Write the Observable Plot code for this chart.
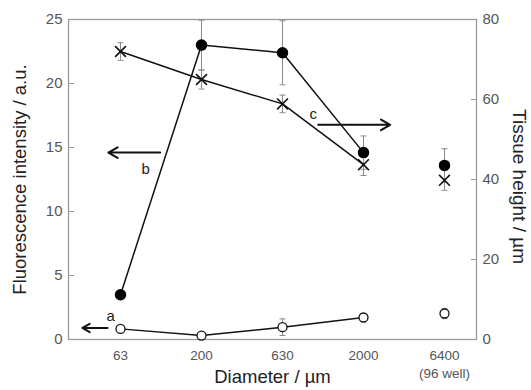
<!DOCTYPE html>
<html><head><meta charset="utf-8">
<script src="https://cdn.jsdelivr.net/npm/d3@7"></script>
<script src="https://cdn.jsdelivr.net/npm/@observablehq/plot@0.6"></script>
<style>body{margin:0;background:#fff;} svg{display:block;}</style>
</head><body><div id="chart"></div>
<script>
// Categories (x positions are category indices)
const diameters = ["63", "200", "630", "2000", "6400\n(96 well)"];
// a: open circles, fluorescence (left axis, a.u.)
const seriesA = [0.83, 0.31, 0.96, 1.72, 2.03];
const errA    = [0.15, 0.15, 0.65, 0.15, 0.4];
// b: filled circles, fluorescence (left axis, a.u.)
const seriesB = [3.5, 23.0, 22.4, 14.6, 13.6];
const errB    = [0.3, 1.95, 2.5, 1.3, 1.3];
// c: crosses, tissue height (right axis, µm)
const seriesC = [72.0, 65.0, 58.9, 43.7, 39.8];
const errC    = [2.2, 2.4, 2.2, 2.7, 2.5];
const connectedCount = 4; // first four diameters are joined by lines
const leftTicks = [0, 5, 10, 15, 20, 25];
const rightTicks = [0, 20, 40, 60, 80];
const leftMax = 25, rightMax = 80;
// annotation arrows (x in category index units, y in left-axis units)
const arrowsData = [
  {x1: -0.16, x2: -0.47, y: 0.9,  label: "a", lx: -0.12, ly: 1.85},
  {x1: 0.49,  x2: -0.15, y: 14.6, label: "b", lx: 0.31,  ly: 13.3},
  {x1: 2.44,  x2: 3.33,  y: 16.77, label: "c", lx: 2.38, ly: 17.6}
];

const k = leftMax / rightMax;
const idx = d3.range(diameters.length);
const rows = [];
idx.forEach(i => {
  rows.push({s: "a", i, v: seriesA[i], lo: seriesA[i] - errA[i], hi: seriesA[i] + errA[i]});
  rows.push({s: "b", i, v: seriesB[i], lo: seriesB[i] - errB[i], hi: Math.min(leftMax, seriesB[i] + errB[i])});
  rows.push({s: "c", i, v: seriesC[i] * k, lo: (seriesC[i] - errC[i]) * k, hi: (seriesC[i] + errC[i]) * k});
});
const cap = {draw(ctx, size) { const r = Math.sqrt(size / Math.PI); ctx.moveTo(-r, 0); ctx.lineTo(r, 0); }};
const joined = rows.filter(d => d.i < connectedCount);
const font = "Liberation Sans, Arial, sans-serif";

const chart = Plot.plot({
  width: 531, height: 390,
  marginLeft: 68, marginRight: 55, marginTop: 19, marginBottom: 51,
  style: {fontFamily: font, background: "#fff"},
  x: {type: "linear", domain: [-0.642, 4.395], axis: null},
  y: {domain: [0, leftMax], axis: null},
  marks: [
    Plot.frame({stroke: "#9a9a9a", strokeWidth: 1.3}),
    Plot.axisY(leftTicks, {anchor: "left", tickSize: -6, tickPadding: 12, fontSize: 15, color: "#555", stroke: "#9a9a9a", label: null}),
    Plot.axisY(rightTicks.map(v => v * k), {anchor: "right", tickSize: -6, tickPadding: 12, fontSize: 15, color: "#555", stroke: "#9a9a9a", tickFormat: d => Math.round(d / k), label: null}),
    Plot.axisX(idx, {anchor: "bottom", tickSize: 0, tickPadding: 8, fontSize: 13.5, fill: "#555", tickFormat: i => diameters[i], label: null, lineHeight: 1.3}),
    Plot.ruleX(rows, {x: "i", y1: "lo", y2: "hi", stroke: "#8a8a8a", strokeWidth: 1}),
    Plot.dot(rows, {x: "i", y: "lo", symbol: cap, r: 3, stroke: "#8a8a8a", strokeWidth: 1}),
    Plot.dot(rows, {x: "i", y: "hi", symbol: cap, r: 3, stroke: "#8a8a8a", strokeWidth: 1}),
    Plot.lineY(joined, {x: "i", y: "v", z: "s", stroke: "#111", strokeWidth: 1.5}),
    Plot.dot(rows.filter(d => d.s === "a"), {x: "i", y: "v", r: 4.5, fill: "#fff", stroke: "#111", strokeWidth: 1.3}),
    Plot.dot(rows.filter(d => d.s === "b"), {x: "i", y: "v", r: 5, fill: "#000", stroke: "#000"}),
    Plot.dot(rows.filter(d => d.s === "c"), {x: "i", y: "v", r: 5, symbol: "times", stroke: "#111", strokeWidth: 1.6}),
    Plot.arrow(arrowsData, {x1: "x1", x2: "x2", y1: "y", y2: "y", stroke: "#111", strokeWidth: 2, headLength: 8}),
    Plot.text(arrowsData, {x: "lx", y: "ly", text: "label", fontSize: 15, fill: "#222"}),
    Plot.text(["Fluorescence intensity / a.u."], {frameAnchor: "left", textAnchor: "middle", dx: -48, rotate: -90, fontSize: 18.5, fill: "#222"}),
    Plot.text(["Tissue height / µm"], {frameAnchor: "right", textAnchor: "middle", dx: 43, dy: 7, rotate: 90, fontSize: 19, fill: "#222"}),
    Plot.text(["Diameter / µm"], {frameAnchor: "bottom", dy: 43, fontSize: 18.5, fill: "#222"})
  ]
});
document.getElementById("chart").append(chart);
</script>
</body></html>
